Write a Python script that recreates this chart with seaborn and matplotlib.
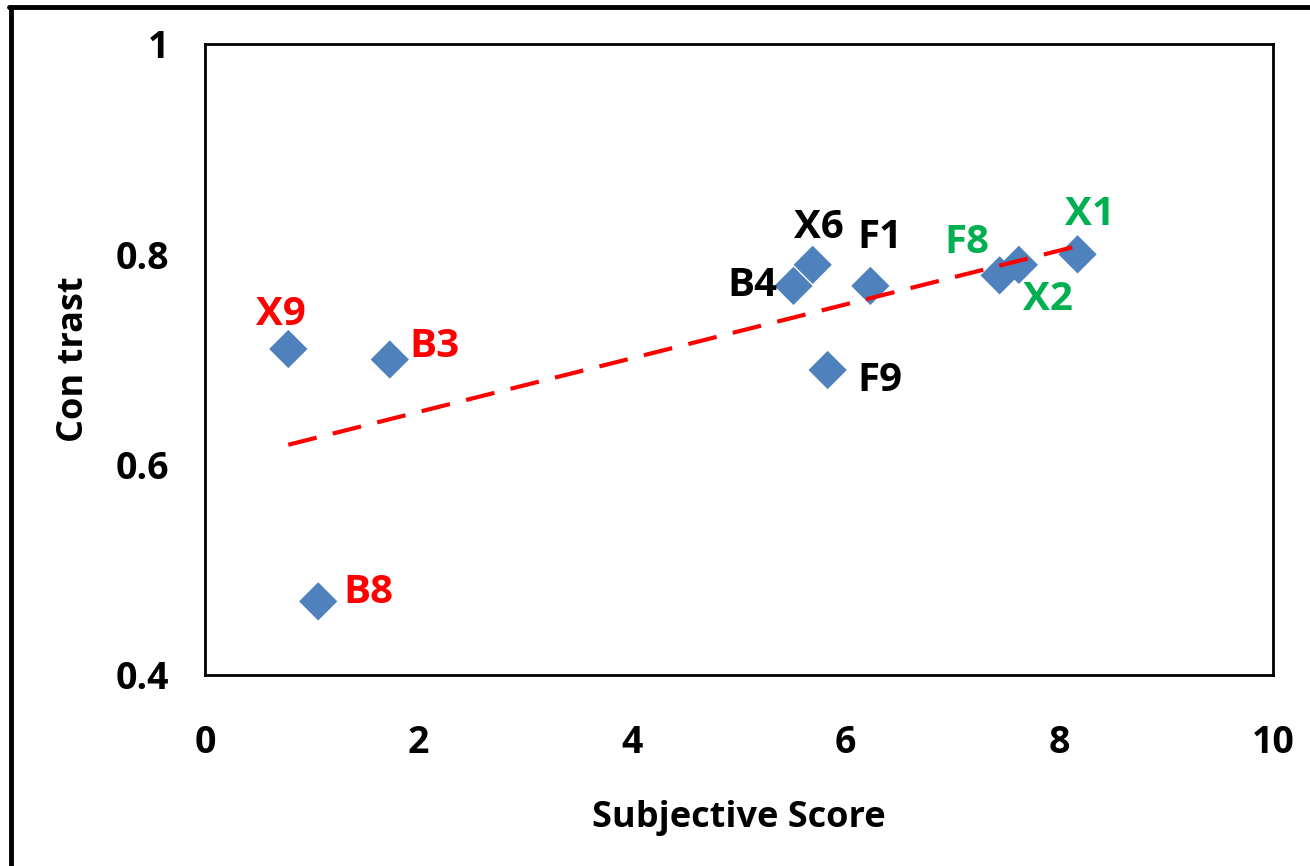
import matplotlib
matplotlib.use('Agg')
import matplotlib.pyplot as plt
from matplotlib.lines import Line2D
import numpy as np
import pandas as pd
import seaborn as sns

# values
names = ['X9', 'B3', 'B8', 'B4', 'X6', 'F1', 'F9', 'F8', 'X2', 'X1']
score = [0.78, 1.73, 1.06, 5.51, 5.69, 6.23, 5.83, 7.44, 7.62, 8.17]
contrast = [0.71, 0.70, 0.47, 0.77, 0.79, 0.77, 0.69, 0.78, 0.79, 0.80]
label_colors = ['#FF0000', '#FF0000', '#FF0000', 'black', 'black', 'black', 'black',
                '#00B050', '#00B050', '#00B050']
# label placement (pixel offsets from the point, alignment)
label_pos = {
    'X9': (-7, 34, 'center'),
    'B3': (20, 13, 'left'),
    'B8': (25, 9, 'left'),
    'B4': (-16, 0, 'right'),
    'X6': (6, 37, 'center'),
    'F1': (10, 48, 'center'),
    'F9': (30, -10, 'left'),
    'F8': (-10, 33, 'right'),
    'X2': (4, -35, 'left'),
    'X1': (12, 40, 'center'),
}

df = pd.DataFrame({'Subjective Score': score, 'Contrast': contrast, 'name': names})

sns.set_style('white')
plt.rcParams['font.family'] = ['Open Sans', 'DejaVu Sans']
plt.rcParams['font.weight'] = 'bold'
plt.rcParams['text.color'] = 'black'
plt.rcParams['axes.labelcolor'] = 'black'
plt.rcParams['xtick.labelcolor'] = 'black'
plt.rcParams['ytick.labelcolor'] = 'black'

fig = plt.figure(figsize=(13.1, 8.66), dpi=100)
ax = fig.add_axes([205 / 1310, 1 - 675 / 866, (1273 - 205) / 1310, (675 - 44) / 866])

sns.scatterplot(data=df, x='Subjective Score', y='Contrast', marker='D', s=380,
                color='#4F81BD', edgecolor='none', ax=ax, zorder=3)

# linear trend line over the data range
slope, intercept = np.polyfit(score, contrast, 1)
xs = np.array([min(score), max(score)])
ax.plot(xs, slope * xs + intercept, color='#FF0000', lw=3, dashes=(7, 4), zorder=4)

for n, x, y, c in zip(names, score, contrast, label_colors):
    dx, dy, ha = label_pos[n]
    ax.annotate(n, (x, y), xytext=(dx, dy), textcoords='offset pixels',
                ha=ha, va='center', fontsize=29, fontweight='bold', color=c)

ax.set_xlim(0, 10)
ax.set_ylim(0.4, 1.0)
ax.set_xticks([0, 2, 4, 6, 8, 10])
ax.set_yticks([0.4, 0.6, 0.8, 1.0])
ax.set_xticklabels(['0', '2', '4', '6', '8', '10'])
ax.set_yticklabels(['0.4', '0.6', '0.8', '1'])
ax.tick_params(axis='both', direction='out', length=11, width=1.5, color='#888888',
               labelsize=27, pad=15, labelcolor='black')
ax.tick_params(axis='x', pad=24)
for s in ax.spines.values():
    s.set_color('black')
    s.set_linewidth(2)

ax.set_xlabel('Subjective Score', fontsize=26, fontweight='bold', labelpad=28)
ax.set_ylabel('Con trast', fontsize=26, fontweight='bold', labelpad=17)

# outer chart frame (cropped on the right and bottom)
fig.add_artist(Line2D([10.5 / 1310, 10.5 / 1310], [0, 1 - 6.5 / 866], color='black', lw=3.5,
                      transform=fig.transFigure))
fig.add_artist(Line2D([9 / 1310, 1], [1 - 6.5 / 866, 1 - 6.5 / 866], color='black', lw=3.5,
                      transform=fig.transFigure))

fig.savefig('out.png', dpi=100)
